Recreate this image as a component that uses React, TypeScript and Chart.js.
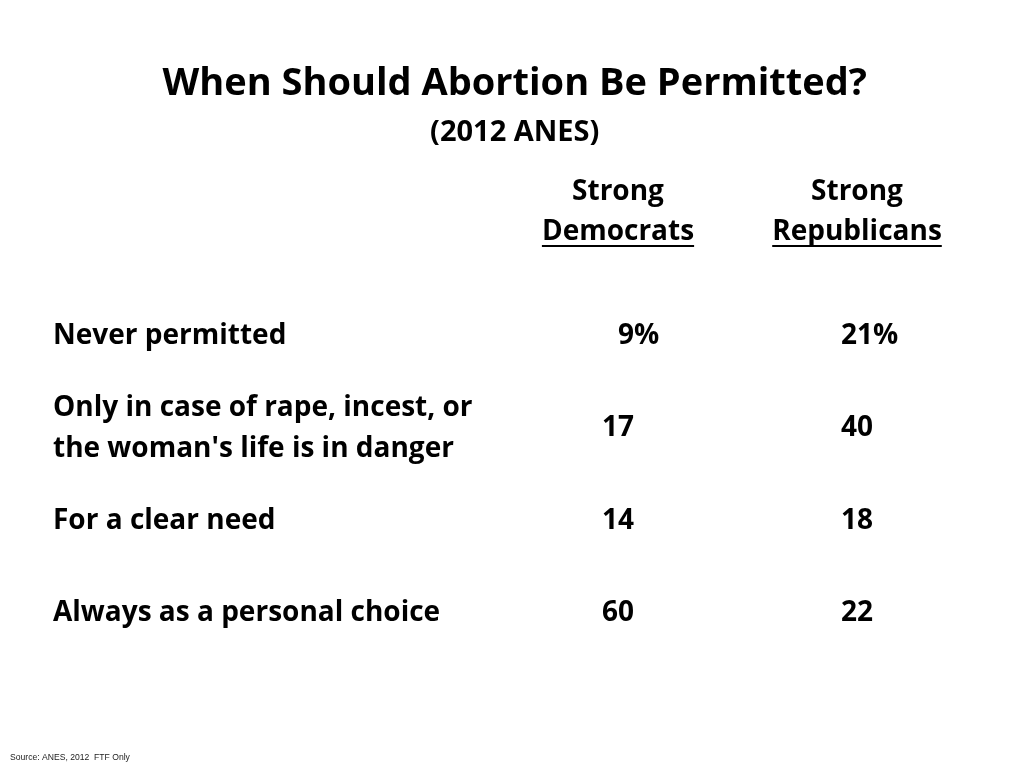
import React, { useEffect, useRef } from 'react';
import { Chart, registerables } from 'chart.js';

Chart.register(...registerables);

// ---- data ----
const titleText = 'When Should Abortion Be Permitted?';
const subtitleText = '(2012 ANES)';
const columns = ['Strong\nDemocrats', 'Strong\nRepublicans'];
const rows = [
  'Never permitted',
  "Only in case of rape, incest, or\nthe woman's life is in danger",
  'For a clear need',
  'Always as a personal choice',
];
const strongDemocrats = [9, 17, 14, 60];
const strongRepublicans = [21, 40, 18, 22];
const valueSuffixes = ['%', '', '', ''];
const sourceText = 'Source: ANES, 2012  FTF Only';

// ---- style ----
const FONT = '"Open Sans", "Noto Sans", "DejaVu Sans", sans-serif';
const LABEL_SIZE = 28;
const VALUE_SIZE = 28;
const HEADER_LINE = 40;
const HEADER_PAD = 38;

const tablePlugin = {
  id: 'tableText',
  afterDatasetsDraw(chart: any) {
    const ctx = chart.ctx;
    ctx.save();
    ctx.fillStyle = '#000';
    ctx.textBaseline = 'middle';
    ctx.font = `bold ${VALUE_SIZE}px ${FONT}`;
    const twoDigit = ctx.measureText('00').width;
    chart.data.datasets.forEach((ds: any, di: number) => {
      const meta = chart.getDatasetMeta(di);
      meta.data.forEach((pt: any, i: number) => {
        const raw = ds.data[i];
        const right = pt.x + twoDigit / 2;
        ctx.textAlign = 'right';
        ctx.fillText(String(raw.v), right, pt.y);
        if (raw.s) {
          ctx.textAlign = 'left';
          ctx.fillText(raw.s, right, pt.y);
        }
      });
    });
    // underline the second header line
    const xs = chart.scales.x;
    ctx.font = `bold ${LABEL_SIZE}px ${FONT}`;
    const lineCenter = chart.chartArea.top - HEADER_PAD - HEADER_LINE / 2;
    columns.forEach((c, i) => {
      const last = c.split('\n').pop() as string;
      const w = ctx.measureText(last).width;
      const px = xs.getPixelForValue(i);
      ctx.fillRect(px - w / 2, lineCenter + 13, w, 2);
    });
    // source note
    ctx.font = '8.6px "Liberation Sans", Arial, sans-serif';
    ctx.fillStyle = '#222';
    ctx.textAlign = 'left';
    ctx.fillText(sourceText, 10, 758);
    ctx.restore();
  },
};

export default function App() {
  const ref = useRef<HTMLCanvasElement | null>(null);
  useEffect(() => {
    document.body.style.margin = '0';
    const canvas = ref.current;
    if (!canvas) return;
    const chart = new Chart(canvas, {
      type: 'scatter',
      data: {
        datasets: [
          {
            label: 'Strong Democrats',
            data: rows.map((r, i) => ({ x: columns[0], y: r, v: strongDemocrats[i], s: valueSuffixes[i] })) as any,
            pointRadius: 0,
            pointHoverRadius: 0,
          },
          {
            label: 'Strong Republicans',
            data: rows.map((r, i) => ({ x: columns[1], y: r, v: strongRepublicans[i], s: valueSuffixes[i] })) as any,
            pointRadius: 0,
            pointHoverRadius: 0,
          },
        ],
      },
      options: {
        animation: false,
        responsive: false,
        events: [],
        layout: { padding: { top: 0, left: 53, right: 47.5, bottom: 109 } },
        plugins: {
          legend: { display: false },
          tooltip: { enabled: false },
          title: {
            display: true,
            text: titleText,
            color: '#000',
            font: { family: FONT, size: 38, weight: 'bold', lineHeight: 1.2 },
            padding: { top: 61, bottom: 0 },
          },
          subtitle: {
            display: true,
            text: subtitleText,
            color: '#000',
            font: { family: FONT, size: 29, weight: 'bold', lineHeight: 1.2 },
            padding: { top: 8.5, bottom: 0 },
          },
        },
        scales: {
          x: {
            type: 'category',
            labels: columns,
            position: 'top',
            offset: true,
            grid: { display: false, drawTicks: false },
            border: { display: false },
            afterFit: (s: any) => { s.height = 140.1; },
            ticks: {
              color: '#000',
              autoSkip: false,
              maxRotation: 0,
              minRotation: 0,
              padding: HEADER_PAD,
              font: { family: FONT, size: LABEL_SIZE, weight: 'bold', lineHeight: `${HEADER_LINE}px` },
              callback: function (this: any, v: any) {
                return String(this.getLabelForValue(v)).split('\n');
              },
            },
          },
          y: {
            type: 'category',
            labels: rows,
            position: 'left',
            offset: true,
            grid: { display: false, drawTicks: false },
            border: { display: false },
            afterFit: (s: any) => { s.width = 445.5; },
            ticks: {
              color: '#000',
              autoSkip: false,
              crossAlign: 'far',
              padding: 21,
              font: { family: FONT, size: LABEL_SIZE, weight: 'bold', lineHeight: '41px' },
              callback: function (this: any, v: any) {
                return String(this.getLabelForValue(v)).split('\n');
              },
            },
          },
        },
      } as any,
      plugins: [tablePlugin],
    });
    return () => chart.destroy();
  }, []);
  return (
    <div style={{ position: 'absolute', left: 0, top: 0, width: 1024, height: 768, background: '#fff' }}>
      <canvas ref={ref} width={1024} height={768} style={{ display: 'block', width: 1024, height: 768 }} />
    </div>
  );
}
